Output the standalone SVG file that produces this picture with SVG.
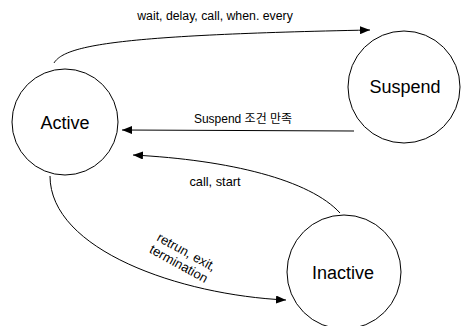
<svg xmlns="http://www.w3.org/2000/svg" width="462" height="326" viewBox="0 0 462 326">
<style>
.node{fill:#fff;stroke:#000;stroke-width:1}
.name{font-family:"Liberation Sans",Arial,sans-serif;font-size:18px;fill:#000;text-anchor:middle}
.lbl{font-family:"Liberation Sans",Arial,"Noto Sans CJK KR",sans-serif;font-size:12px;fill:#000;text-anchor:middle}
.edge{fill:none;stroke:#000;stroke-width:1;marker-end:url(#arr)}
</style>
<defs>
<marker id="arr" viewBox="0 0 10 8" refX="10" refY="4" markerWidth="10" markerHeight="8" markerUnits="userSpaceOnUse" orient="auto">
<path d="M0,0 L10,4 L0,8 Z" fill="#000"/>
</marker>
</defs>
<rect width="462" height="326" fill="#fff"/>
<g id="connectors">
<path class="edge" d="M54 63 C65 45 120 35 370 30"/>
<path class="edge" d="M354 131 L122 130"/>
<path class="edge" d="M340 213 C310 180 230 160 133 155"/>
<path class="edge" d="M50 176 C50 250 180 295 286 300"/>
<text class="lbl" x="215" y="20" style="font-size:12.3px">wait, delay, call, when. every</text>
<text class="lbl" x="243" y="123">Suspend 조건 만족</text>
<text class="lbl" x="215" y="186" style="font-size:12.8px">call, start</text>
<g transform="translate(182,258) rotate(29)" style="font-size:13px">
<text class="lbl" x="1" y="-3" style="font-size:13px">retrun, exit,</text>
<text class="lbl" x="0" y="11" style="font-size:13px">termination</text>
</g>
</g>
<g id="active">
<circle class="node" cx="65" cy="122" r="53"/>
<text class="name" x="65" y="129">Active</text>
</g>
<g id="suspend">
<circle class="node" cx="404" cy="87" r="56"/>
<text class="name" x="405" y="93">Suspend</text>
</g>
<g id="inactive">
<circle class="node" cx="344" cy="272" r="57"/>
<text class="name" x="343" y="279">Inactive</text>
</g>
</svg>
